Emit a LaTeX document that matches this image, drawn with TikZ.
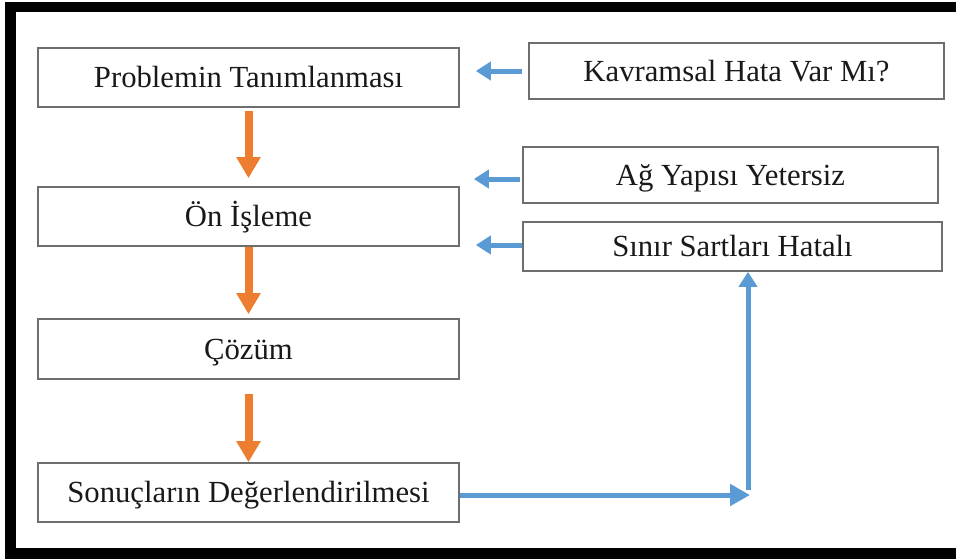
\documentclass[tikz,border=0pt]{standalone}
\usepackage{fontspec}
\setmainfont{Liberation Serif}
\usetikzlibrary{arrows.meta}
\definecolor{flowor}{HTML}{ED7D31}
\definecolor{flowbl}{HTML}{5B9BD5}
\definecolor{boxgray}{HTML}{6E6E6E}
\tikzset{
  stepbox/.style={draw=boxgray, line width=1.6pt, rectangle, inner sep=0pt,
    font=\fontsize{30.7}{34}\selectfont, text=black!90,
    text height=25pt, text depth=5pt},
  downarrow/.style={draw=flowor, line width=8pt,
    -{Triangle[length=21pt,width=23pt]}},
  backarrow/.style={draw=flowbl, line width=5pt,
    -{Triangle[length=15pt,width=18pt]}},
}
\begin{document}
\begin{tikzpicture}[x=1pt,y=-1pt]
  \useasboundingbox (0,0) rectangle (956,558);
  % outer frame, open to the right
  \draw[line width=10.5pt] (10.5,7) rectangle (980,553.5);

  % main flow
  \node[stepbox, minimum width=421pt, minimum height=59pt] (p1) at (248.5,77.5) {Problemin Tanımlanması};
  \node[stepbox, minimum width=421pt, minimum height=59pt] (p2) at (248.5,216.5) {Ön İşleme};
  \node[stepbox, minimum width=421pt, minimum height=60pt] (p3) at (248.5,349) {Çözüm};
  \node[stepbox, minimum width=421pt, minimum height=59pt] (p4) at (248.5,492.5) {Sonuçların Değerlendirilmesi};

  % error sources
  \node[stepbox, minimum width=415pt, minimum height=56pt] (k) at (736.5,71) {Kavramsal Hata Var Mı?};
  \node[stepbox, minimum width=415pt, minimum height=56pt] (a) at (730.5,175) {Ağ Yapısı Yetersiz};
  \node[stepbox, minimum width=419pt, minimum height=49pt] (s) at (732.5,246.5) {Sınır Sartları Hatalı};

  % downward steps
  \draw[downarrow, shorten <=3pt, shorten >=8pt] (p1.south) -- (p2.north);
  \draw[downarrow, shorten >=4pt] (p2.south) -- (p3.north);
  \draw[downarrow, shorten <=14pt] (p3.south) -- (p4.north);

  % feedback arrows
  \draw[backarrow] ([xshift=-6pt]k.west) -- ([xshift=16pt]p1.east |- k.west);
  \draw[backarrow] ([xshift=-2pt,yshift=-4pt]a.west) -- ([xshift=14pt,yshift=-4pt]p1.east |- a.west);
  \draw[backarrow] ([yshift=1.5pt]s.west) -- ([xshift=16pt,yshift=1.5pt]p1.east |- s.west);

  % evaluation loop back to the boundary conditions
  \coordinate (corner) at (750,495);
  \draw[draw=flowbl, line width=5pt, -{Triangle[length=20pt,width=21pt]}]
    ([yshift=-2.5pt]p4.east) -- (corner);
  \draw[backarrow] ([xshift=-2pt,yshift=5pt]corner) -- ([xshift=-2pt]corner |- s.south);
\end{tikzpicture}
\end{document}
